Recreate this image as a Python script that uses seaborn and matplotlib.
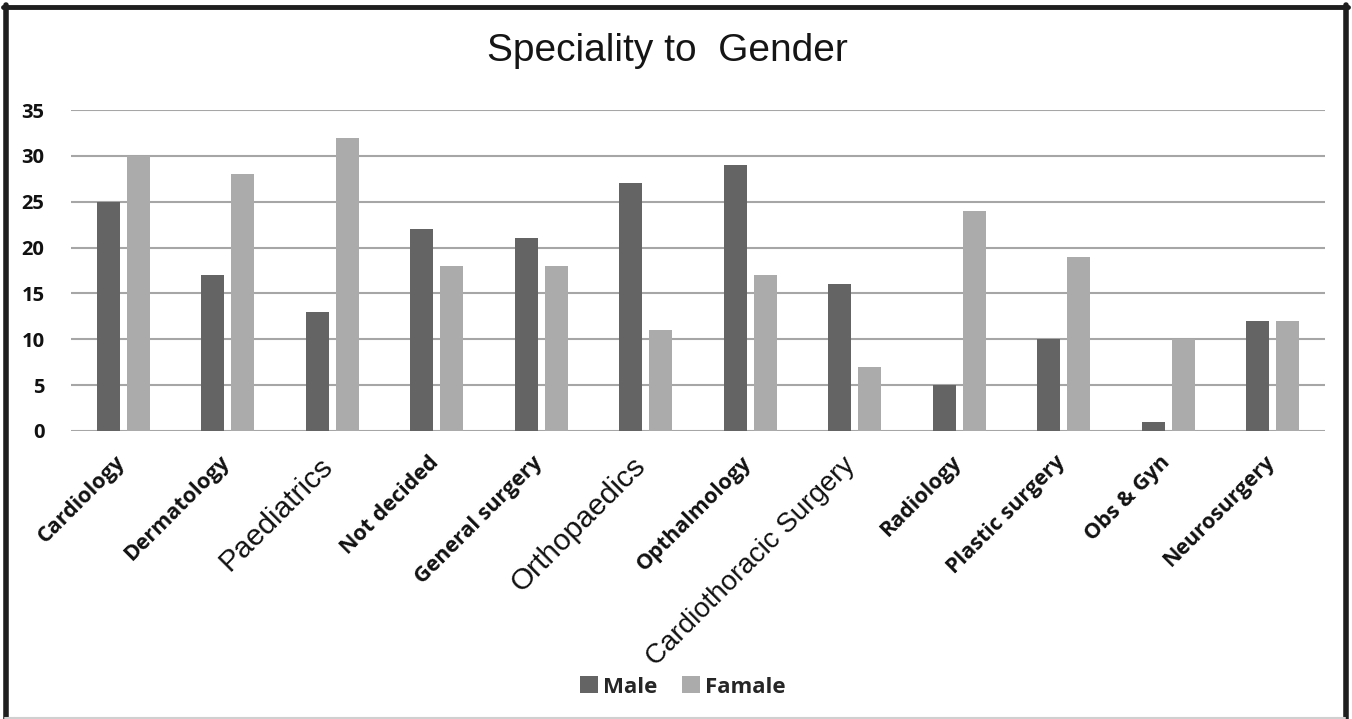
import matplotlib
matplotlib.use("Agg")
import matplotlib.pyplot as plt
import matplotlib.transforms as mtrans
import seaborn as sns
import pandas as pd
from matplotlib.lines import Line2D
from matplotlib.patches import Patch

categories = ["Cardiology", "Dermatology", "Paediatrics", "Not decided", "General surgery",
              "Orthopaedics", "Opthalmology", "Cardiothoracic Surgery", "Radiology",
              "Plastic surgery", "Obs & Gyn", "Neurosurgery"]
male = [25, 17, 13, 22, 21, 27, 29, 16, 5, 10, 1, 12]
female = [30, 28, 32, 18, 18, 11, 17, 7, 24, 19, 10, 12]
series = ["Male", "Famale"]
yticks = [0, 5, 10, 15, 20, 25, 30, 35]
regular_label_sizes = {"Paediatrics": 21.5, "Orthopaedics": 21.5, "Cardiothoracic Surgery": 20}

df = pd.DataFrame({
    "Speciality": categories * 2,
    "Gender": [series[0]] * len(categories) + [series[1]] * len(categories),
    "Count": male + female,
})

sns.set_theme(style="white")
plt.rcParams['font.family'] = ['Open Sans', 'DejaVu Sans']

W, H = 1352, 719
fig = plt.figure(figsize=(W / 100, H / 100), dpi=100)
ax = fig.add_axes([71 / W, (H - 431) / H, (1325 - 71) / W, (431 - 110) / H])

colors = {"Male": "#646464", "Famale": "#ababab"}
sns.barplot(data=df, x="Speciality", y="Count", hue="Gender", palette=colors,
            order=categories, hue_order=series, width=0.574, gap=0.233,
            saturation=1, legend=False, ax=ax, linewidth=0)

ax.set_ylim(0, 35)
ax.set_xlim(-0.5, len(categories) - 0.5)
ax.set_yticks(yticks)
ax.set_yticklabels([str(t) for t in yticks], fontsize=14.5, fontweight="bold", color="#111111")
ax.yaxis.grid(True, color="#a6a6a6", linewidth=1.5)
ax.set_axisbelow(True)
for s in ax.spines.values():
    s.set_visible(False)
ax.tick_params(axis="y", length=0, pad=19)
ax.tick_params(axis="x", length=0, pad=15)
ax.set_xlabel("")
ax.set_ylabel("")

ax.set_xticks(range(len(categories)))
ax.set_xticklabels(categories)
shift = mtrans.ScaledTranslation(6 / 100, 0, fig.dpi_scale_trans)
for lab in ax.get_xticklabels():
    txt = lab.get_text()
    lab.set_rotation(45)
    lab.set_ha("right")
    lab.set_va("top")
    lab.set_color("#111111")
    if txt in regular_label_sizes:
        lab.set_fontfamily(["Liberation Sans", "DejaVu Sans"])
        lab.set_fontsize(regular_label_sizes[txt])
        lab.set_fontweight("normal")
    else:
        lab.set_fontsize(15.5)
        lab.set_fontweight("bold")
    lab.set_transform(lab.get_transform() + shift)

fig.text(667 / W, 1 - 51 / H, "Speciality to  Gender", ha="center", va="center",
         fontsize=28, family=["Liberation Sans", "DejaVu Sans"], color="#151515")

handles = [Patch(facecolor=colors[s], edgecolor="none") for s in series]
leg = fig.legend(handles, series, loc="center", bbox_to_anchor=(683 / W, 1 - 687 / H),
                 ncol=2, frameon=False, handlelength=0.8, handleheight=0.8,
                 handletextpad=0.25, columnspacing=1.1,
                 prop={"family": "Open Sans", "weight": "bold", "size": 16})

# figure frame
fig.add_artist(Line2D([5.5 / W, 5.5 / W], [0, 1 - 5 / H], transform=fig.transFigure, color="#1e1e1e", lw=4))
fig.add_artist(Line2D([3 / W, 1348 / W], [1 - 7 / H, 1 - 7 / H], transform=fig.transFigure, color="#1e1e1e", lw=3.5))
fig.add_artist(Line2D([1345.5 / W, 1345.5 / W], [0, 1 - 5 / H], transform=fig.transFigure, color="#1e1e1e", lw=4))
fig.add_artist(Line2D([5 / W, 1345 / W], [1.5 / H, 1.5 / H], transform=fig.transFigure, color="#d0d0d0", lw=1.5))

fig.savefig("out.png", dpi=100, facecolor="white")
